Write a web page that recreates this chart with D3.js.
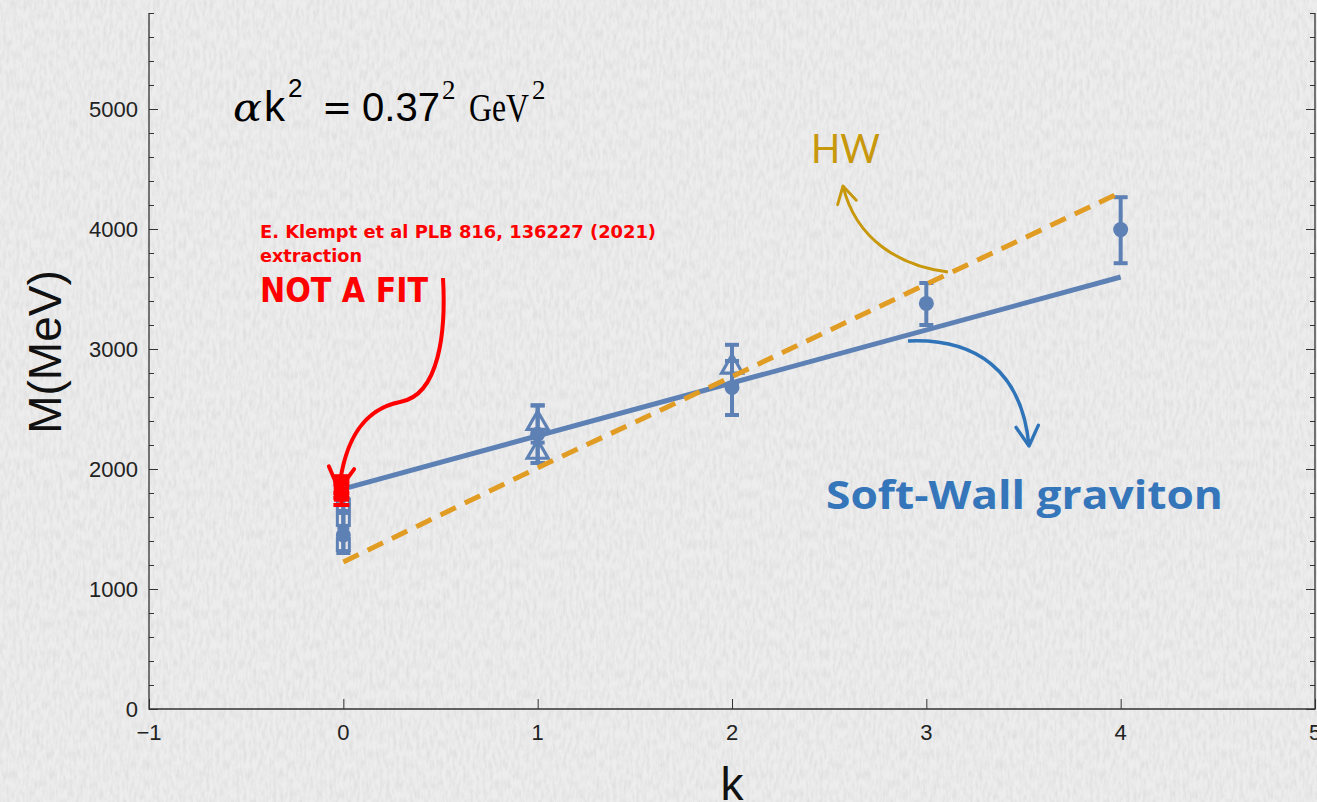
<!DOCTYPE html>
<html>
<head>
<meta charset="utf-8">
<script src="https://cdn.jsdelivr.net/npm/d3@7"></script>
<style>
  html, body { margin: 0; padding: 0; background: #e8e8e8; }
  svg { display: block; }
</style>
</head>
<body>
<svg id="chart" width="1317" height="802"></svg>
<script>
// ---- data ----
const kTicks = [-1, 0, 1, 2, 3, 4, 5];
const mTicks = [0, 1000, 2000, 3000, 4000, 5000];

// Soft-wall graviton trajectory
const swK = [0, 4];
const swM = [1835, 3600];

// Hard-wall trajectory
const hwK = [0, 1, 2, 3, 4];
const hwM = [1225, 2010, 2770, 3540, 4305];

// filled circles with error bars
const circK  = [0, 1, 2, 3, 4];
const circM  = [1450, 2290, 2680, 3380, 3995];
const circLo = [1300, 2050, 2450, 3200, 3715];
const circHi = [1700, 2530, 2900, 3550, 4265];

// open triangles
const triK  = [1, 1, 2];
const triM  = [2380, 2140, 2850];
const triLo = [2300, 2050, 2700];
const triHi = [2530, 2220, 3035];

// open squares
const sqK  = [0, 0, 0];
const sqM  = [1700, 1580, 1370];
const sqLo = [1640, 1510, 1300];
const sqHi = [1760, 1650, 1440];

// extraction points (red)
const redK  = [-0.01, -0.01, -0.01];
const redM  = [1880, 1830, 1790];
const redLo = [1800, 1760, 1700];
const redHi = [1940, 1900, 1870];

// ---- layout ----
const svg = d3.select("#chart");
const W = 1317, H = 802;
const pLeft = 149, pRight = 1315, pTop = 13, pBottom = 709;

const x = d3.scaleLinear().domain([-1, 5]).range([pLeft, pRight]);
const y = d3.scaleLinear().domain([0, 5800]).range([pBottom, pTop]);

// paper-like grainy background
const defs = svg.append("defs");
const grain = defs.append("filter").attr("id", "grain")
  .attr("x", 0).attr("y", 0).attr("width", "100%").attr("height", "100%");
grain.append("feTurbulence").attr("type", "fractalNoise")
  .attr("baseFrequency", "0.3 0.1").attr("numOctaves", 3).attr("seed", 7).attr("result", "n");
grain.append("feColorMatrix").attr("in", "n").attr("type", "matrix")
  .attr("values", "0 0 0 0 0.5  0 0 0 0 0.5  0 0 0 0 0.5  0 0 0 -1.3 0.85");

svg.append("rect").attr("width", W).attr("height", H).attr("fill", "#ededed");
svg.append("rect").attr("width", W).attr("height", H).attr("filter", "url(#grain)").attr("opacity", 0.4);

// arrowhead markers
function arrowMarker(id, color) {
  defs.append("marker").attr("id", id)
    .attr("viewBox", "0 0 20 20").attr("refX", 17).attr("refY", 10)
    .attr("markerWidth", 7.5).attr("markerHeight", 7.5).attr("markerUnits", "strokeWidth")
    .attr("orient", "auto")
    .append("path").attr("d", "M2,1.5 L17,10 L2,18.5")
    .attr("fill", "none").attr("stroke", color).attr("stroke-width", 2.6)
    .attr("stroke-linecap", "round").attr("stroke-linejoin", "round");
}
arrowMarker("ahRed", "#ff0000");
arrowMarker("ahBlue", "#2f74b8");
arrowMarker("ahGold", "#c8980c");

// ---- axes (frame on left, bottom, right) ----
const axisColor = "#333";
const gAx = svg.append("g");

const yMinor = d3.range(0, 5801, 200);
gAx.append("g").attr("transform", `translate(${pLeft},0)`)
  .call(d3.axisRight(y).tickValues(yMinor).tickSize(5).tickFormat(""));
gAx.append("g").attr("transform", `translate(${pLeft},0)`)
  .call(d3.axisRight(y).tickValues(mTicks).tickSize(9).tickFormat(""));
gAx.append("g").attr("transform", `translate(${pRight},0)`)
  .call(d3.axisLeft(y).tickValues(yMinor).tickSize(5).tickFormat(""));
gAx.append("g").attr("transform", `translate(${pRight},0)`)
  .call(d3.axisLeft(y).tickValues(mTicks).tickSize(9).tickFormat(""));
gAx.append("g").attr("transform", `translate(0,${pBottom})`)
  .call(d3.axisTop(x).tickValues(kTicks).tickSize(10).tickFormat(""));

gAx.selectAll(".domain").remove();
gAx.selectAll(".tick line").attr("stroke", axisColor).attr("stroke-width", 1);
gAx.append("path")
  .attr("d", `M${pLeft},${pTop}V${pBottom}H${pRight}V${pTop}`)
  .attr("fill", "none").attr("stroke", axisColor).attr("stroke-width", 1.3);

// tick labels
const tickFont = "Liberation Sans, Arial, sans-serif";
svg.append("g").selectAll("text").data(mTicks).join("text")
  .attr("x", pLeft - 11).attr("y", d => y(d) + 8)
  .attr("text-anchor", "end").attr("font-family", tickFont).attr("font-size", 22)
  .attr("fill", "#222").text(d => d);
svg.append("g").selectAll("text").data(kTicks).join("text")
  .attr("x", d => x(d)).attr("y", pBottom + 31)
  .attr("text-anchor", "middle").attr("font-family", tickFont).attr("font-size", 22)
  .attr("fill", "#222").text(d => d < 0 ? "\u2212" + Math.abs(d) : d);

// axis titles
svg.append("text").attr("transform", "translate(61,352) rotate(-90)")
  .attr("text-anchor", "middle").attr("font-family", tickFont).attr("font-size", 46)
  .attr("fill", "#111").text("M(MeV)");
svg.append("text").attr("x", x(2)).attr("y", 800)
  .attr("text-anchor", "middle").attr("font-family", tickFont).attr("font-size", 46)
  .attr("fill", "#111").text("k");

// ---- marks ----
const blue = "#5e81b5";
const gold = "#e19c24";
const plot = svg.append("g");

function errorBars(g, ks, lo, hi, color, cap, sw) {
  ks.forEach((k, i) => {
    const cx = x(k);
    g.append("line").attr("x1", cx).attr("x2", cx).attr("y1", y(lo[i])).attr("y2", y(hi[i]))
      .attr("stroke", color).attr("stroke-width", sw);
    [lo[i], hi[i]].forEach(v => {
      g.append("line").attr("x1", cx - cap).attr("x2", cx + cap).attr("y1", y(v)).attr("y2", y(v))
        .attr("stroke", color).attr("stroke-width", sw);
    });
  });
}

errorBars(plot, circK, circLo, circHi, blue, 7, 4);
errorBars(plot, triK, triLo, triHi, blue, 7, 4);
errorBars(plot, sqK, sqLo, sqHi, blue, 6, 4);

plot.selectAll("circle.pt").data(circK).join("circle").attr("class", "pt")
  .attr("cx", d => x(d)).attr("cy", (d, i) => y(circM[i])).attr("r", 7.5).attr("fill", blue);

const tri = d3.symbol(d3.symbolTriangle, 190);
plot.selectAll("path.tri").data(triK).join("path").attr("class", "tri")
  .attr("d", tri).attr("transform", (d, i) => `translate(${x(d)},${y(triM[i])})`)
  .attr("fill", "none").attr("stroke", blue).attr("stroke-width", 3.2);

plot.selectAll("rect.sq").data(sqK).join("rect").attr("class", "sq")
  .attr("x", d => x(d) - 6).attr("y", (d, i) => y(sqM[i]) - 6)
  .attr("width", 12).attr("height", 12)
  .attr("fill", "none").attr("stroke", blue).attr("stroke-width", 3);

// trajectories
const line = d3.line().x(d => x(d[0])).y(d => y(d[1]));
plot.append("path").datum(swK.map((k, i) => [k, swM[i]])).attr("d", line)
  .attr("fill", "none").attr("stroke", blue).attr("stroke-width", 5);
plot.append("path").datum(hwK.map((k, i) => [k, hwM[i]])).attr("d", line)
  .attr("fill", "none").attr("stroke", gold).attr("stroke-width", 5)
  .attr("stroke-dasharray", "17,10");

// extraction points on top
errorBars(plot, redK, redLo, redHi, "#ff0000", 8, 4);
plot.selectAll("rect.red").data(redK).join("rect").attr("class", "red")
  .attr("x", d => x(d) - 6).attr("y", (d, i) => y(redM[i]) - 6)
  .attr("width", 12).attr("height", 12)
  .attr("fill", "none").attr("stroke", "#ff0000").attr("stroke-width", 3);

// ---- annotations ----
const ann = svg.append("g");

// formula: alpha k^2 = 0.37^2 GeV^2
const sans = "Liberation Sans, Arial, sans-serif";
const serif = "Liberation Serif, Times New Roman, serif";
const fBase = 121, fSup = 97;
function ftext(tx, ty, str, family, size, opts = {}) {
  const t = ann.append("text").attr("x", tx).attr("y", ty).attr("font-family", family)
    .attr("font-size", size).attr("fill", "#000").text(str);
  if (opts.italic) t.attr("font-style", "italic");
  if (opts.anchor) t.attr("text-anchor", opts.anchor);
  if (opts.len) t.attr("textLength", opts.len).attr("lengthAdjust", "spacingAndGlyphs");
  return t;
}
ftext(233, fBase, "\u03b1", "DejaVu Serif, serif", 40, { italic: true, len: 29 });
ftext(264, fBase, "k", sans, 42);
ftext(288, fSup, "2", sans, 26);
ftext(337, fBase - 1, "=", "DejaVu Sans, sans-serif", 38, { anchor: "middle", len: 30 });
ftext(362, fBase, "0.37", sans, 40, { len: 78 });
ftext(442, fSup + 2, "2", serif, 27);
ftext(469, fBase, "GeV", serif, 40, { len: 60 });
ftext(532, fSup + 2, "2", serif, 27);

// red citation
const redFont = "DejaVu Sans, Verdana, sans-serif";
ann.append("text").attr("x", 260).attr("y", 238).attr("font-family", redFont).attr("font-weight", "bold")
  .attr("font-size", 17).attr("fill", "#ff0000")
  .attr("textLength", 396).attr("lengthAdjust", "spacingAndGlyphs")
  .text("E. Klempt et al PLB 816, 136227 (2021)");
ann.append("text").attr("x", 260).attr("y", 262).attr("font-family", redFont).attr("font-weight", "bold")
  .attr("font-size", 17).attr("fill", "#ff0000")
  .attr("textLength", 102).attr("lengthAdjust", "spacingAndGlyphs")
  .text("extraction");
ann.append("text").attr("x", 260).attr("y", 302).attr("font-family", redFont).attr("font-weight", "bold")
  .attr("font-size", 33).attr("fill", "#ff0000")
  .attr("textLength", 168).attr("lengthAdjust", "spacingAndGlyphs")
  .text("NOT A FIT");

ann.append("path").attr("d", "M443,278 C446,330 440,395 400,402 C360,410 344,445 339,490")
  .attr("fill", "none").attr("stroke", "#ff0000").attr("stroke-width", 4)
  .attr("marker-end", "url(#ahRed)");

// HW
ann.append("text").attr("x", 811).attr("y", 163).attr("font-family", "Lato, Open Sans, sans-serif")
  .attr("font-size", 40).attr("fill", "#c8980c")
  .attr("textLength", 69).attr("lengthAdjust", "spacingAndGlyphs").text("HW");
ann.append("path").attr("d", "M948,272 C900,266 856,240 843,186")
  .attr("fill", "none").attr("stroke", "#c8980c").attr("stroke-width", 3)
  .attr("marker-end", "url(#ahGold)");

// Soft-Wall graviton
ann.append("text").attr("x", 826).attr("y", 509).attr("font-family", "Open Sans, DejaVu Sans, sans-serif").attr("font-weight", "bold")
  .attr("font-size", 40).attr("fill", "#3576bb")
  .attr("textLength", 397).attr("lengthAdjust", "spacingAndGlyphs").text("Soft-Wall graviton");
ann.append("path").attr("d", "M908,341 C975,338 1022,370 1029,446")
  .attr("fill", "none").attr("stroke", "#2f74b8").attr("stroke-width", 3.5)
  .attr("marker-end", "url(#ahBlue)");
</script>
</body>
</html>
